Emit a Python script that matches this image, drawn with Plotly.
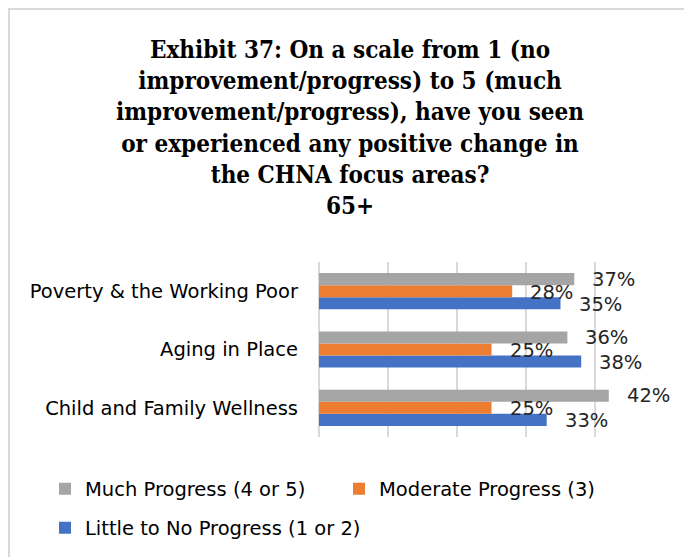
import plotly.graph_objects as go

categories = ["Child and Family Wellness", "Aging in Place", "Poverty & the Working Poor"]
much_progress = [42, 36, 37]
moderate_progress = [25, 25, 28]
little_progress = [33, 38, 35]
series_names = ["Little to No Progress (1 or 2)", "Moderate Progress (3)", "Much Progress (4 or 5)"]
series_colors = ["#4472C4", "#ED7D31", "#A5A5A5"]
title_text = ("Exhibit 37: On a scale from 1 (no<br>improvement/progress) to 5 (much<br>"
              "improvement/progress), have you seen<br>or experienced any positive change in<br>"
              "the CHNA focus areas?<br>65+")

FONT = "DejaVu Sans"
FS = 19.5
OFF = 8  # page body margin
W, H = 692 - OFF, 557 - OFF
L = 319 - OFF
T = 262 - OFF
R = W - (664 - OFF)
B = H - (437 - OFF)

fig = go.Figure()
series_values = [little_progress, moderate_progress, much_progress]
legend_ids = ["legend2", "legend", "legend"]
ranks = [3, 2, 1]
for name, vals, col, lg, rk in zip(series_names, series_values, series_colors, legend_ids, ranks):
    fig.add_trace(go.Bar(
        y=categories, x=vals, name=name, orientation="h",
        marker=dict(color=col, line=dict(width=0)),
        legend=lg, legendrank=rk, hoverinfo="skip",
    ))

# data labels
yshifts = [-13, -1, 12]
for vals, ys in zip(series_values, yshifts):
    for cat, v in zip(categories, vals):
        fig.add_annotation(x=v, y=cat, text=f"{v}%", showarrow=False,
                           xanchor="left", yanchor="middle", xshift=16, yshift=ys,
                           font=dict(family=FONT, size=FS, color="#262626"))

pw = W - L - R
ph = H - T - B
fig.add_shape(type="rect", xref="paper", yref="paper",
              x0=(1 - L) / pw, x1=(W + 20 - L) / pw,
              y0=-(H + 20 - T - ph) / ph, y1=(T - 1) / ph + 1,
              line=dict(color="#D9D9D9", width=2), fillcolor="rgba(0,0,0,0)", layer="below")

fig.update_layout(
    width=W, height=H,
    margin=dict(l=L, r=R, t=T, b=B, pad=0, autoexpand=False),
    paper_bgcolor="white", plot_bgcolor="white",
    barmode="group", bargap=0.38, bargroupgap=0,
    title=dict(text=title_text, x=0.5, xref="container", xanchor="center",
               y=1 - 50 / H, yanchor="top", yref="container",
               font=dict(family="DejaVu Serif Condensed", size=24, color="#000000", weight="bold")),
    xaxis=dict(range=[0, 50], dtick=10, showticklabels=False, showgrid=True,
               gridcolor="#D9D9D9", gridwidth=1.5, zeroline=True, zerolinecolor="#D9D9D9",
               zerolinewidth=1.5, fixedrange=True, automargin=False),
    yaxis=dict(categoryorder="array", categoryarray=categories, showgrid=False,
               ticklabelstandoff=20, tickfont=dict(family=FONT, size=FS, color="#000000"),
               showline=False, ticks="", automargin=False),
    legend=dict(orientation="h", x=(37 - L) / pw, xanchor="left", y=-(489 - OFF - T - ph) / ph,
                yanchor="middle", entrywidth=249, font=dict(family=FONT, size=FS, color="#000000"),
                bgcolor="rgba(0,0,0,0)"),
    legend2=dict(orientation="h", x=(37 - L) / pw, xanchor="left", y=-(528 - OFF - T - ph) / ph,
                 yanchor="middle", font=dict(family=FONT, size=FS, color="#000000"),
                 bgcolor="rgba(0,0,0,0)"),
    showlegend=True,
)

fig.write_html("out.html")
